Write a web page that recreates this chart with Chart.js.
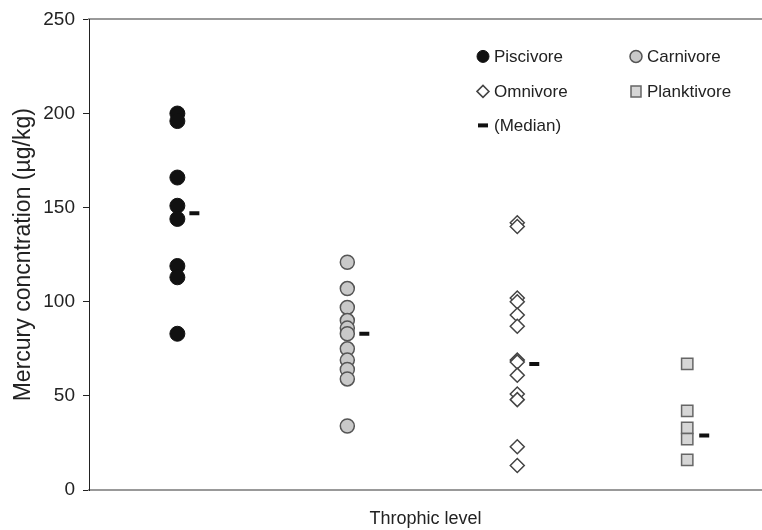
<!DOCTYPE html>
<html lang="en">

<head>
    <meta charset="UTF-8">
    <title>Mercury concentration by trophic level</title>
    <script src="https://cdn.jsdelivr.net/npm/chart.js"></script>
    <style>
        body { margin: 0; background: #fff; }
        .wrap { width: 762px; height: 530px; position: relative; }
    </style>
</head>

<body>
    <div class="wrap">
        <canvas id="mercuryChart"></canvas>
    </div>

    <script>
        // categories (x position 1..4) and the values
        const groups = ['Piscivore', 'Carnivore', 'Omnivore', 'Planktivore'];
        const piscivore = [200, 196, 166, 151, 144, 119, 113, 83];
        const carnivore = [121, 107, 97, 90, 86, 83, 75, 69, 64, 59, 34];
        const omnivore = [142, 140, 102, 100, 93, 87, 69, 68, 61, 51, 48, 23, 13];
        const planktivore = [67, 42, 33, 27, 16];
        const medians = [147, 83, 67, 29];
        const yTicks = [0, 50, 100, 150, 200, 250];

        const sans = "'Liberation Sans', Arial, sans-serif";

        function toPoints(values, xPos) {
            return values.map(v => ({ x: xPos, y: v }));
        }

        // medians sit a little to the right of each column
        const medianPoints = medians.map((v, i) => ({ x: i + 1.1, y: v }));

        // legend drawn by hand: two columns, three rows like the original
        const gridLegend = {
            id: 'gridLegend',
            afterDraw(chart) {
                const ctx = chart.ctx;
                const area = chart.chartArea;
                const cols = [area.left + 394, area.left + 547];
                const rows = [area.top + 37, area.top + 72, area.top + 106];
                const slots = [[0, 0], [1, 0], [0, 1], [1, 1], [0, 2]];
                ctx.save();
                ctx.font = '17px ' + sans;
                ctx.textBaseline = 'middle';
                ctx.fillStyle = '#222';
                chart.data.datasets.forEach((ds, i) => {
                    const x = cols[slots[i][0]];
                    const y = rows[slots[i][1]];
                    ctx.save();
                    ctx.fillStyle = ds.backgroundColor;
                    ctx.strokeStyle = ds.borderColor;
                    ctx.lineWidth = ds.borderWidth;
                    ctx.beginPath();
                    if (ds.pointStyle === 'circle') {
                        ctx.arc(x, y, 6, 0, Math.PI * 2);
                        ctx.fill();
                        ctx.stroke();
                    } else if (ds.pointStyle === 'rectRot') {
                        ctx.moveTo(x - 6, y); ctx.lineTo(x, y - 6);
                        ctx.lineTo(x + 6, y); ctx.lineTo(x, y + 6);
                        ctx.closePath();
                        ctx.fill();
                        ctx.stroke();
                    } else if (ds.pointStyle === 'rect') {
                        ctx.rect(x - 5, y - 5.5, 10, 11);
                        ctx.fill();
                        ctx.stroke();
                    } else {
                        ctx.moveTo(x - 5, y); ctx.lineTo(x + 5, y);
                        ctx.stroke();
                    }
                    ctx.restore();
                    ctx.fillText(ds.label, x + 11, y + 1);
                });
                ctx.restore();
            }
        };

        const ctx = document.getElementById('mercuryChart').getContext('2d');

        new Chart(ctx, {
            type: 'scatter',
            data: {
                datasets: [{
                    label: groups[0],
                    data: toPoints(piscivore, 1),
                    pointStyle: 'circle',
                    pointRadius: 7.5,
                    backgroundColor: '#111',
                    borderColor: '#111',
                    borderWidth: 1
                }, {
                    label: groups[1],
                    data: toPoints(carnivore, 2),
                    pointStyle: 'circle',
                    pointRadius: 7,
                    backgroundColor: '#c9c9c9',
                    borderColor: '#555',
                    borderWidth: 1.5
                }, {
                    label: groups[2],
                    data: toPoints(omnivore, 3),
                    pointStyle: 'rectRot',
                    pointRadius: 7,
                    backgroundColor: '#fff',
                    borderColor: '#444',
                    borderWidth: 1.5
                }, {
                    label: groups[3],
                    data: toPoints(planktivore, 4),
                    pointStyle: 'rect',
                    pointRadius: 8,
                    backgroundColor: '#d6d6d6',
                    borderColor: '#666',
                    borderWidth: 1.5
                }, {
                    label: '(Median)',
                    data: medianPoints,
                    pointStyle: 'line',
                    pointRadius: 5,
                    backgroundColor: '#111',
                    borderColor: '#111',
                    borderWidth: 4
                }]
            },
            plugins: [gridLegend],
            options: {
                responsive: true,
                maintainAspectRatio: false,
                animation: false,
                layout: { padding: 0, autoPadding: false },
                plugins: {
                    legend: { display: false },
                    tooltip: { enabled: false }
                },
                scales: {
                    x: {
                        type: 'linear',
                        min: 0.48,
                        max: 4.44,
                        grid: { display: false },
                        ticks: { display: false },
                        border: { color: '#999', width: 2 },
                        title: {
                            display: true,
                            text: 'Throphic level',
                            color: '#222',
                            font: { family: sans, size: 18, lineHeight: 1 },
                            padding: { top: 0, bottom: 2 }
                        },
                        afterFit: s => { s.height = 40; }
                    },
                    xTop: {
                        type: 'linear',
                        position: 'top',
                        min: 0.48,
                        max: 4.44,
                        grid: { display: false },
                        ticks: { display: false },
                        border: { color: '#999', width: 2 },
                        afterFit: s => { s.height = 16; }
                    },
                    y: {
                        min: 0,
                        max: 250,
                        afterBuildTicks: s => { s.ticks = yTicks.map(v => ({ value: v })); },
                        grid: {
                            drawOnChartArea: false,
                            drawTicks: true,
                            tickLength: 6,
                            color: '#222'
                        },
                        border: { color: '#222', width: 1 },
                        ticks: {
                            color: '#222',
                            padding: 8,
                            font: { family: sans, size: 19 }
                        },
                        title: {
                            display: true,
                            text: 'Mercury concntration (µg/kg)',
                            color: '#222',
                            font: { family: sans, size: 23, lineHeight: 1 },
                            padding: { top: 12, bottom: 0 }
                        },
                        afterFit: s => { s.width = 89; }
                    }
                }
            }
        });
    </script>
</body>

</html>
